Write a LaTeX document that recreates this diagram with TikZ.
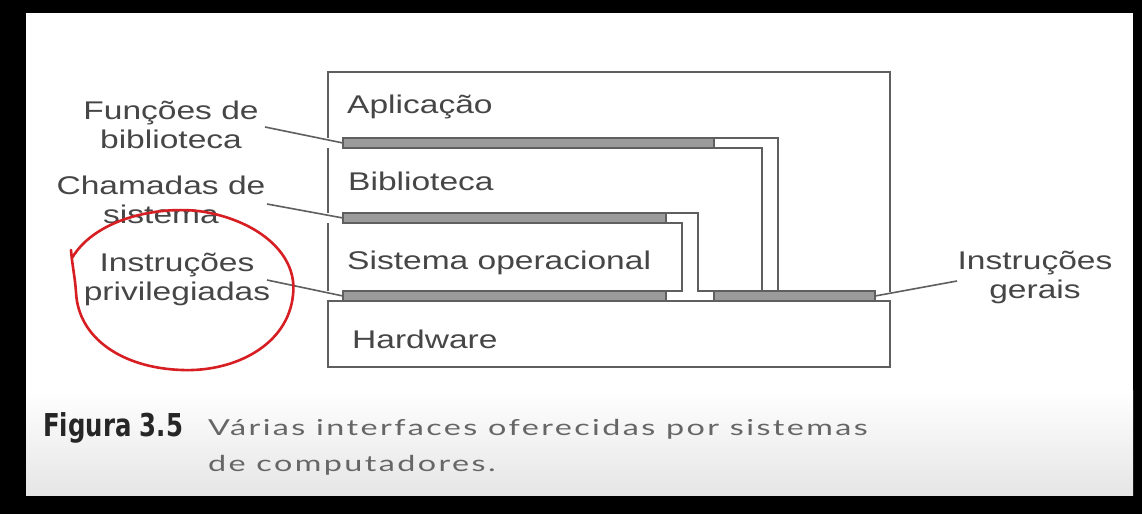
\documentclass[tikz,border=0pt]{standalone}
\usepackage{fontspec}
\setmainfont{Liberation Sans}
\newfontfamily\widefont[FakeStretch=1.31]{Liberation Sans}
\newfontfamily\figfont[FakeStretch=0.86]{DejaVu Sans Condensed}
\newfontfamily\capfont[FakeStretch=1.47,LetterSpace=11]{Lato}
\definecolor{inkgray}{RGB}{70,70,70}
\definecolor{linegray}{RGB}{95,95,95}
\definecolor{barfill}{RGB}{155,155,155}
\definecolor{markred}{RGB}{215,30,35}
\tikzset{
  edge/.style={draw=linegray, line width=2pt, line join=miter},
  barbox/.style={draw=linegray, fill=barfill, line width=1.6pt, inner sep=0pt, outer sep=0pt, minimum height=10pt},
  leader/.style={draw=linegray, line width=1.6pt},
  layertext/.style={anchor=base west, inner sep=0pt, text=inkgray, font=\widefont\fontsize{25.6}{29}\selectfont},
  sidetext/.style={align=center, inner sep=0pt, text=inkgray, font=\widefont\fontsize{25.6}{29}\selectfont},
  captext/.style={anchor=base west, inner sep=0pt, text=black!60, font=\capfont\fontsize{22}{26}\selectfont},
}
\begin{document}
\begin{tikzpicture}[x=1pt,y=-1pt]
\useasboundingbox (0,0) rectangle (1142,514);
\fill[black] (0,0) rectangle (1142,514);
\fill[white] (26,13) rectangle (1133,495);
\shade[top color=white, bottom color=black!10] (26,390) rectangle (1133,495);

% bars (interfaces)
\node[barbox, minimum width=371pt] (b1) at (528.5,143) {};
\node[barbox, minimum width=323pt] (b2) at (504.5,218) {};
\node[barbox, minimum width=323pt] (b3) at (504.5,296) {};
\node[barbox, minimum width=161pt] (b4) at (794.5,296) {};

% Aplicacao outline
\draw[edge] (328,138) -- (328,72) -- (890,72) -- (890,292);
\draw[edge] (714,138) -- (778,138) -- (778,291);
% Biblioteca outline
\draw[edge] (328,148) -- (328,213);
\draw[edge] (714,148) -- (762,148) -- (762,291);
\draw[edge] (666,213) -- (698,213) -- (698,291) -- (714,291);
% Sistema operacional outline
\draw[edge] (328,223) -- (328,291);
\draw[edge] (666,223) -- (682,223) -- (682,291) -- (666,291);
% Hardware
\node[edge, rectangle, minimum width=562pt, minimum height=66pt, inner sep=0pt] (hw) at (609,334) {};

% layer texts
\node[layertext] (tapl) at (347,113) {Aplicação};
\node[layertext] (tbib) at (348,190) {Biblioteca};
\node[layertext] (tso) at (347,269) {Sistema operacional};
\node[layertext] (thw) at (352,348) {Hardware};

% side labels
\node[sidetext] (lfun) at (171,125) {Funções de\\biblioteca};
\node[sidetext] (lcha) at (161,200) {Chamadas de\\sistema};
\node[sidetext] (lpri) at (177,279) {Instruções\\privilegiadas};
\node[sidetext] (lger) at (1035,277) {Instruções\\gerais};

\coordinate (cfun) at (265,127);
\coordinate (ccha) at (267,204);
\coordinate (cpri) at (267,280);
\coordinate (cger) at (957,281);
\draw[leader] (cfun) -- (b1.west);
\draw[leader] (ccha) -- (b2.west);
\draw[leader] (cpri) -- (b3.west);
\draw[leader] (cger) -- (b4.east);

% red hand-drawn mark
\draw[markred, line width=2.6pt, line cap=round]
  (72,258) .. controls (97,216) and (165,205) .. (205,212)
  .. controls (260,222) and (298,255) .. (293,295)
  .. controls (288,345) and (235,372) .. (182,370)
  .. controls (122,368) and (78,338) .. (76,292)
  .. controls (75,277) and (72,264) .. (71,250);

% caption
\node[anchor=base west, inner sep=0pt, text=black!85, font=\figfont\bfseries\fontsize{31.5}{32}\selectfont] (fig) at (43,436) {Figura 3.5};
\node[captext] (cap1) at (208,435) {Várias interfaces oferecidas por sistemas};
\node[captext] (cap2) at (208,471) {de computadores.};
\end{tikzpicture}
\end{document}
